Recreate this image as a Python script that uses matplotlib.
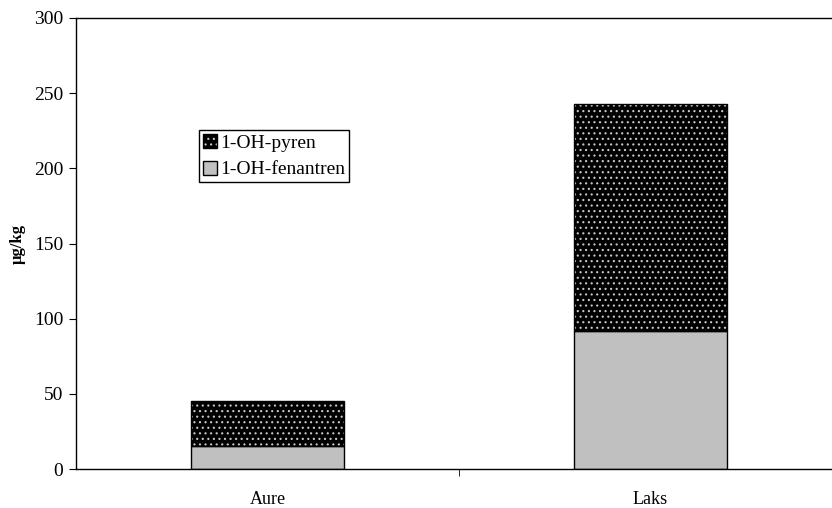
from matplotlib import pyplot as plt
from matplotlib.patches import Patch
import numpy as np

# values (ug/kg)
categories = ['Aure', 'Laks']
fenantren = [15, 92]
pyren = [30, 151]
series_names = ['1-OH-pyren', '1-OH-fenantren']

plt.rcParams['font.family'] = ['Liberation Serif', 'DejaVu Serif']
plt.rcParams['hatch.linewidth'] = 0.8

fig = plt.figure(figsize=(8.32, 5.08), dpi=100)
ax = fig.add_axes([76 / 832, 1 - 469 / 508, 766 / 832, 451 / 508])

x = np.arange(len(categories))
w = 0.40
dots = '#c8c8c8'

ax.bar(x, fenantren, w, color='#c0c0c0', edgecolor='black', linewidth=1.0)
# dotted black fill for pyren: hatch drawn in light grey, outline drawn separately
ax.bar(x, pyren, w, bottom=fenantren, color='black', edgecolor=dots,
       hatch='...', linewidth=0)
ax.bar(x, pyren, w, bottom=fenantren, fill=False, edgecolor='black', linewidth=1.0)

ax.set_xlim(-0.5, 1.5)
ax.set_ylim(0, 300)
ax.set_yticks(np.arange(0, 301, 50))
ax.set_xticks(x)
ax.set_xticklabels(categories)
ax.set_xticks([0.5], minor=True)
ax.tick_params(axis='x', which='major', length=0, pad=16, labelsize=13)
ax.tick_params(axis='x', which='minor', length=5, direction='out')
ax.tick_params(axis='y', length=5, direction='out', labelsize=14, pad=4)
ax.set_ylabel('µg/kg', fontweight='bold', fontsize=12, labelpad=6)
for s in ax.spines.values():
    s.set_linewidth(1.0)

h_pyren = (Patch(facecolor='black', edgecolor=dots, hatch='...', linewidth=0),
           Patch(fill=False, edgecolor='black', linewidth=1.0))
h_fen = Patch(facecolor='#c0c0c0', edgecolor='black', linewidth=1.0)
leg = ax.legend([h_pyren, h_fen], series_names, loc='upper left',
                bbox_to_anchor=(123 / 766, 1 - 112 / 451), fontsize=14,
                fancybox=False, framealpha=1, edgecolor='black',
                handlelength=0.75, handleheight=0.75, handletextpad=0.15,
                borderpad=0.2, labelspacing=0.45, borderaxespad=0)
leg.get_frame().set_linewidth(1.0)

plt.savefig('out.png', dpi=100)
